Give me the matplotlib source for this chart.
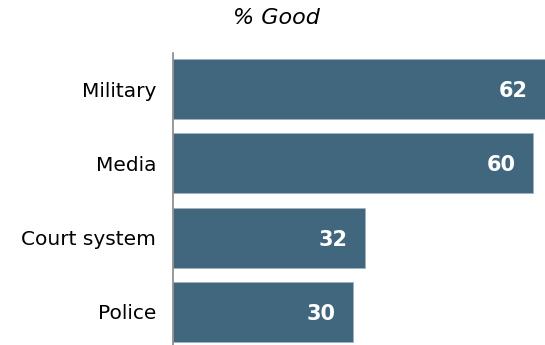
import matplotlib.pyplot as plt

institutions = ["Military", "Media", "Court system", "Police"]
pct_good = [62, 60, 32, 30]

BAR_COLOR = "#41677f"

plt.rcParams["font.family"] = ["DejaVu Sans"]

fig = plt.figure(figsize=(5.45, 3.45), dpi=100)
ax = fig.add_axes([173 / 545, 0.0, 1 - 173 / 545, 1 - 53 / 345])

positions = list(range(len(institutions)))
ax.barh(positions, pct_good, height=0.81, color=BAR_COLOR, edgecolor="#9fb3c2", linewidth=0.5)

for pos, value in zip(positions, pct_good):
    ax.annotate(
        f"{value}",
        xy=(value, pos),
        xytext=(-17, -2),
        textcoords="offset pixels",
        ha="right",
        va="center",
        color="white",
        fontsize=15,
        fontweight="bold",
    )

ax.set_xlim(0, 62)
ax.set_ylim(3.45, -0.49)
ax.set_yticks(positions)
ax.set_yticklabels(institutions, fontsize=14.5)
ax.tick_params(axis="y", length=0, pad=12)
ax.set_xticks([])

for side in ("top", "right", "bottom"):
    ax.spines[side].set_visible(False)
ax.spines["left"].set_color("#888888")
ax.spines["left"].set_linewidth(1.2)

fig.text(276 / 545, 1 - 18 / 345, "% Good", ha="center", va="center", fontsize=16, style="italic")

fig.savefig("out.png", dpi=100)
